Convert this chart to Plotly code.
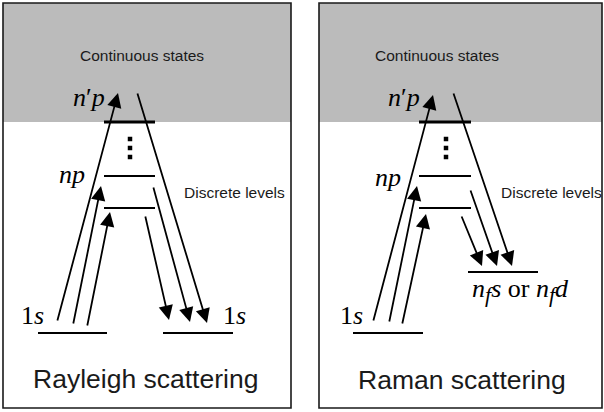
import plotly.graph_objects as go

# ---------------- data (diagram coordinates, y grows downward) ----------------
panel_titles = ["Rayleigh scattering", "Raman scattering"]
panel_left = [3, 319]
panel_right = [291, 602]
panel_top = 3
panel_bottom = 408
continuum_edge = 122

# excited levels: x-span per panel, y of each level (top one = ionisation edge)
level_x0 = [104, 419]
level_x1 = [155, 471]
level_y = [122, 176, 208]

# ground / final levels: (x0, x1, y)
ground_x0 = [38, 163, 353, 468]
ground_x1 = [107, 233, 423, 538]
ground_y = [333, 333, 333, 272]

# dots between levels
dot_x = [130, 130, 130, 446, 446, 446]
dot_y = [139, 148, 157, 139, 148, 157]

# absorption arrows (tail -> tip)
up_tail_x = [57, 73, 87, 373, 389, 402]
up_tail_y = [322, 325, 327, 322, 323, 325]
up_tip_x = [118, 101, 110, 433, 417, 426]
up_tip_y = [93, 186, 212, 95, 186, 214]

# emission arrows (tail -> tip)
down_tail_x = [137, 153, 145, 453, 470, 461]
down_tail_y = [92, 186, 215, 92, 189, 215]
down_tip_x = [207, 190, 169, 512, 497, 482]
down_tip_y = [323, 322, 320, 266, 266, 266]

# labels
SUBF = "<sub><span style='font-size:22px'>f</span></sub>"
state_labels = ["<i>n</i>′<i>p</i>", "<i>np</i>", "1<i>s</i>", "1<i>s</i>",
                "<i>n</i>′<i>p</i>", "<i>np</i>", "1<i>s</i>",
                "<i>n" + SUBF + "s</i> or <i>n" + SUBF + "d</i>"]
state_label_x = [89, 72, 32, 234, 404, 388, 351, 520]
state_label_y = [97, 174, 315, 315, 97, 177, 315, 290]

region_labels = ["Continuous states", "Discrete levels", "Continuous states", "Discrete levels"]
region_label_x = [142, 234, 437, 551]
region_label_y = [55, 192, 55, 192]

title_x = [145, 462]
title_y = [379, 380]

W, H = 604, 412
fig = go.Figure()

shapes = []
for i in range(2):
    # grey continuum
    shapes.append(dict(type="rect", x0=panel_left[i], x1=panel_right[i], y0=panel_top,
                       y1=continuum_edge, fillcolor="#bbbbbb", line=dict(width=0), layer="below"))
    # panel frame
    shapes.append(dict(type="rect", x0=panel_left[i], x1=panel_right[i], y0=panel_top,
                       y1=panel_bottom, line=dict(color="#1a1a1a", width=1.6)))
    for j, ly in enumerate(level_y):
        shapes.append(dict(type="line", x0=level_x0[i], x1=level_x1[i], y0=ly, y1=ly,
                           line=dict(color="black", width=3.2 if j == 0 else 2)))
for k in range(len(ground_y)):
    shapes.append(dict(type="line", x0=ground_x0[k], x1=ground_x1[k], y0=ground_y[k],
                       y1=ground_y[k], line=dict(color="black", width=2)))

fig.add_trace(go.Scatter(x=dot_x, y=dot_y, mode="markers",
                         marker=dict(symbol="square", size=4.5, color="black"),
                         hoverinfo="skip", showlegend=False))

ann = []
for tx, ty, hx, hy in list(zip(up_tail_x, up_tail_y, up_tip_x, up_tip_y)) + \
        list(zip(down_tail_x, down_tail_y, down_tip_x, down_tip_y)):
    ann.append(dict(x=hx, y=hy, ax=tx, ay=ty, xref="x", yref="y", axref="x", ayref="y",
                    text="", showarrow=True, arrowhead=2, arrowsize=1.6, arrowwidth=1.8,
                    arrowcolor="black", standoff=0, startstandoff=0))

for t, x, y in zip(state_labels, state_label_x, state_label_y):
    ann.append(dict(x=x, y=y, xref="x", yref="y", text=t, showarrow=False,
                    font=dict(family="Liberation Serif", size=26, color="black"),
                    xanchor="center", yanchor="middle"))
for t, x, y in zip(region_labels, region_label_x, region_label_y):
    ann.append(dict(x=x, y=y, xref="x", yref="y", text=t, showarrow=False,
                    font=dict(family="Liberation Sans", size=15.5, color="#1a1a1a"),
                    xanchor="center", yanchor="middle"))
for t, x, y in zip(panel_titles, title_x, title_y):
    ann.append(dict(x=x, y=y, xref="x", yref="y", text=t, showarrow=False,
                    font=dict(family="Liberation Sans", size=26.5, color="#1a1a1a"),
                    xanchor="center", yanchor="middle"))

fig.update_layout(
    width=W, height=H, margin=dict(l=0, r=0, t=0, b=0),
    paper_bgcolor="white", plot_bgcolor="white",
    xaxis=dict(range=[0, W], visible=False, fixedrange=True),
    yaxis=dict(range=[H, 0], visible=False, fixedrange=True),
    shapes=shapes, annotations=ann, showlegend=False,
)
fig.write_html("out.html", config={"displayModeBar": False},
               post_script="document.body.style.margin='0';document.body.style.overflow='hidden';")
